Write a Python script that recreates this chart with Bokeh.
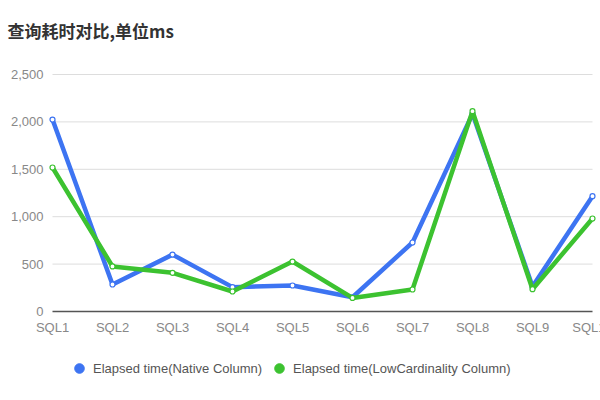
from bokeh.plotting import figure
from bokeh.models import Range1d, Legend, LegendItem, Title
from bokeh.core.properties import value
from bokeh.embed import file_html
from bokeh.resources import INLINE

categories = ["SQL1", "SQL2", "SQL3", "SQL4", "SQL5", "SQL6", "SQL7", "SQL8", "SQL9", "SQL10"]
native = [2025, 285, 600, 257, 274, 150, 728, 2085, 264, 1216]
lowcard = [1519, 475, 408, 211, 527, 143, 232, 2113, 235, 981]
y_ticks = [0, 500, 1000, 1500, 2000, 2500]
y_tick_labels = ["0", "500", "1,000", "1,500", "2,000", "2,500"]
series_names = ["Elapsed time(Native Column)", "Elapsed time(LowCardinality Column)"]

BLUE = "#3d74f2"
GREEN = "#3cc230"
FONT = "Liberation Sans"

xs = list(range(len(categories)))
n = len(categories)

# layout in pixels (frame covers the canvas below the title)
W, H = 600, 400
TOP = 56                        # frame top
HEAD_PX = 18                    # room above the 2,500 line for its label
LEFT_PX, RIGHT_PX = 52, 8       # gutter left of first / right of last category
PLOT_PX = 237                   # height of the 0..2500 band
BELOW_PX = H - TOP - HEAD_PX - PLOT_PX
x_per_px = (n - 1) / (W - LEFT_PX - RIGHT_PX)
y_per_px = y_ticks[-1] / PLOT_PX

p = figure(width=W, height=H, output_backend="svg", toolbar_location=None,
           x_range=Range1d(-LEFT_PX * x_per_px, (n - 1) + RIGHT_PX * x_per_px),
           y_range=Range1d(-BELOW_PX * y_per_px, y_ticks[-1] + HEAD_PX * y_per_px),
           min_border_left=0, min_border_right=0, min_border_top=TOP,
           min_border_bottom=0)
p.outline_line_color = None
p.background_fill_color = "white"
p.border_fill_color = "white"
p.xaxis.visible = False
p.yaxis.visible = False
p.grid.visible = False

p.title = Title(text="查询耗时对比,单位ms", text_font="Noto Sans CJK SC",
                text_font_size="17px", text_font_style="bold",
                text_color="#333333", align="left", offset=7, standoff=28)

# horizontal grid lines over the category span
p.segment(x0=[0] * len(y_ticks[1:]), y0=y_ticks[1:], x1=[n - 1] * len(y_ticks[1:]),
          y1=y_ticks[1:], line_color="#dddddd", line_width=1)
# zero baseline
p.segment(x0=[0], y0=[y_ticks[0]], x1=[n - 1], y1=[y_ticks[0]],
          line_color="#555555", line_width=1.5)

# y tick labels
p.text([0] * len(y_ticks), y_ticks, text=y_tick_labels, x_offset=-9,
       text_align="right", text_baseline="middle", text_font=value(FONT),
       text_font_size="13px", text_color="#888888")
# category labels
p.text(xs, [0] * n, text=categories, y_offset=8, text_align="center",
       text_baseline="top", text_font=value(FONT), text_font_size="13px",
       text_color="#888888")

# lines
p.line(xs, native, line_color=BLUE, line_width=4.5, line_join="round")
p.scatter(xs, native, size=5, fill_color="white", line_color=BLUE, line_width=1.2)
p.line(xs, lowcard, line_color=GREEN, line_width=4.5, line_join="round")
p.scatter(xs, lowcard, size=5, fill_color="white", line_color=GREEN, line_width=1.2)

# legend proxies
nan = float("nan")
r1 = p.scatter([nan], [nan], size=11, fill_color=BLUE, line_color=BLUE)
r2 = p.scatter([nan], [nan], size=11, fill_color=GREEN, line_color=GREEN)
legend = Legend(items=[LegendItem(label=series_names[0], renderers=[r1]),
                       LegendItem(label=series_names[1], renderers=[r2])],
                orientation="horizontal", location=(65, 20),
                glyph_width=28, glyph_height=24, label_standoff=0, spacing=3,
                padding=0, margin=0, border_line_color=None,
                background_fill_alpha=0, label_text_font=FONT,
                label_text_font_size="13px", label_text_color="#555555")
p.add_layout(legend, "center")

open("out.html", "w").write(file_html(p, INLINE))
